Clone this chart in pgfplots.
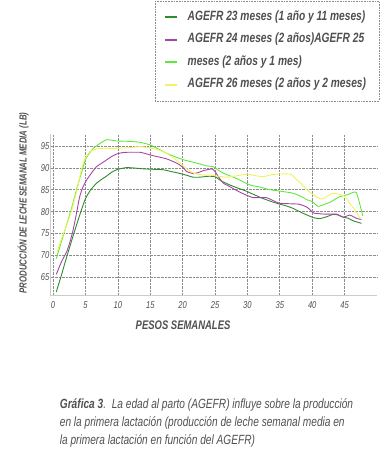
\documentclass[border=0pt]{standalone}
\usepackage{fontspec}
\setmainfont{Liberation Sans}[FakeStretch=0.76]
\usepackage{pgfplots}
\pgfplotsset{compat=1.18}
\definecolor{txt}{HTML}{505050}
\definecolor{cA}{HTML}{2E8B2E}
\definecolor{cB}{HTML}{A844A8}
\definecolor{cC}{HTML}{5FE83C}
\definecolor{cD}{HTML}{F2F25A}
\pgfplotstableread{
x y
0.5 61.6
1.3 65.5
2.1 69.6
2.9 73.5
3.7 77.3
4.4 80.5
5.0 83.0
5.8 85.0
6.7 86.5
7.5 87.4
8.3 88.2
9.0 89.0
9.8 89.6
10.6 89.9
11.4 90.1
12.5 90.0
14.0 89.8
15.5 89.7
17.0 89.6
18.5 89.1
20.0 88.6
21.6 87.9
22.7 87.9
24.0 88.1
25.0 88.0
26.0 87.0
27.3 86.1
28.5 85.4
29.8 84.7
31.0 83.9
32.4 83.0
33.7 82.3
35.0 81.7
36.0 81.3
37.1 80.7
38.6 79.6
40.2 78.6
41.2 78.4
42.2 78.8
43.3 79.4
44.0 79.2
44.8 78.7
45.5 78.5
46.3 77.9
47.6 77.3
}\tA
\pgfplotstableread{
x y
0.5 65.6
1.3 68.5
2.1 70.8
2.6 73.0
3.1 75.8
3.6 79.5
4.1 83.4
4.6 85.6
5.2 87.3
6.0 89.0
6.7 90.3
7.5 91.1
8.3 91.9
9.0 92.6
9.8 93.2
10.6 93.5
11.4 93.6
13.4 93.6
14.5 93.2
15.5 92.8
17.5 92.1
19.1 91.1
20.0 90.2
20.6 89.2
21.7 88.7
22.5 89.0
23.2 89.4
24.5 89.8
25.0 89.2
25.6 87.8
26.3 86.5
27.3 85.7
28.5 84.7
29.8 83.8
30.9 83.2
32.9 83.2
34.0 82.5
35.0 81.9
37.9 81.7
39.2 81.0
40.2 79.7
41.2 79.5
42.2 79.4
43.8 79.4
44.8 78.7
45.8 79.2
46.9 78.4
47.6 78.2
}\tB
\pgfplotstableread{
x y
0.5 69.2
1.3 73.2
2.1 77.0
2.9 81.0
3.7 85.5
4.4 89.0
5.0 91.9
5.6 93.4
6.2 94.5
7.2 95.6
8.3 96.5
9.8 96.2
11.9 96.1
13.4 95.9
15.0 95.3
16.2 94.4
17.5 93.4
18.8 92.6
20.1 91.9
21.4 91.4
22.7 90.9
23.7 90.5
24.7 90.3
25.5 89.5
26.3 88.8
28.3 87.6
30.4 86.1
32.0 85.6
33.5 85.0
35.0 84.7
37.1 84.2
38.5 83.3
39.2 82.7
40.0 82.3
40.9 81.2
41.8 81.6
42.7 82.1
43.5 82.8
44.2 83.4
45.5 83.9
46.8 84.4
47.8 79.0
}\tC
\pgfplotstableread{
x y
0.6 70.6
1.3 73.8
2.1 76.8
2.9 80.5
3.7 85.0
4.2 88.5
4.7 91.5
5.2 92.8
5.7 93.8
6.5 94.3
7.3 94.5
9.8 94.5
12.0 94.7
13.4 94.9
15.0 94.6
16.2 94.2
17.5 93.4
18.5 92.4
19.6 91.1
20.5 90.0
21.4 89.0
22.2 88.6
23.2 88.4
24.7 88.3
26.0 88.0
26.8 87.9
28.3 88.2
29.9 88.6
31.0 88.3
32.4 88.0
33.5 88.4
34.5 88.6
36.6 88.6
37.4 87.6
38.3 86.4
39.2 85.0
40.2 83.8
41.0 83.1
41.6 82.9
42.4 83.6
43.3 84.2
44.8 83.7
45.3 83.0
45.8 81.9
46.6 80.3
47.4 78.5
}\tD
\begin{document}
\begin{tikzpicture}
\useasboundingbox (-50.5bp,-174.3bp) rectangle (335.5bp,295.7bp);
\begin{axis}[
  scale only axis,
  width=326.5bp, height=161.7bp,
  xmin=-0.4, xmax=50, ymin=60.7, ymax=97.8,
  xtick={0,5,...,45}, ytick={65,70,...,95},
  grid=major,
  grid style={densely dotted, black!45, line width=0.7pt},
  axis x line*=bottom, axis y line*=left,
  axis line style={black!20, line width=0.8pt, -},
  major tick length=0pt,
  /pgf/number format/assume math mode=true,
  tick label style={font=\fontsize{10}{12}\selectfont\itshape, text=txt},
  yticklabel style={inner sep=1bp},
  xticklabel style={yshift=-2bp},
  xlabel={PESOS SEMANALES},
  xlabel style={at={(axis description cs:0.406,-0.184)}, anchor=center,
     font=\fontsize{12.5}{15}\selectfont\bfseries\itshape, text=txt},
  ylabel={PRODUCCIÓN DE LECHE SEMANAL MEDIA (LB)},
  ylabel style={at={(axis description cs:-0.084,0.573)}, anchor=center,
     font=\fontsize{10.3}{12}\selectfont\bfseries\itshape, text=txt},
  legend cell align=left,
  legend style={at={(0.32,1.822)}, anchor=north west,
     draw=black!45, densely dotted, line width=0.6pt,
     font=\fontsize{13.5}{15}\selectfont\bfseries\itshape, text=txt,
     row sep=6.5bp, column sep=6bp, inner xsep=9bp, inner ysep=8bp,
     nodes={text height=9bp, text depth=3bp, inner xsep=4bp}},
  legend image code/.code={\draw[#1, solid, line width=1.8pt] (0bp,0bp) -- (11.6bp,0bp);},
]
\addplot[cA, line width=0.9pt, smooth, tension=0.3] table {\tA};
\addlegendentry{AGEFR 23 meses (1 año y 11 meses)}
\addplot[cB, line width=0.9pt, smooth, tension=0.3] table {\tB};
\addlegendentry{AGEFR 24 meses (2 años)AGEFR 25}
\addplot[cC, line width=0.9pt, smooth, tension=0.3] table {\tC};
\addlegendentry{meses (2 años y 1 mes)}
\addplot[cD, line width=0.9pt, smooth, tension=0.3] table {\tD};
\addlegendentry{AGEFR 26 meses (2 años y 2 meses)}
\end{axis}
\node[anchor=base west, align=left, text=txt, inner sep=0pt,
  font=\fontsize{13.4}{18}\selectfont\itshape] at (9.2bp,-148.3bp)
  {\textbf{Gráfica 3}.\ \ La edad al parto (AGEFR) influye sobre la producción\\
   en la primera lactación (producción de leche semanal media en\\
   la primera lactación en función del AGEFR)};
\end{tikzpicture}
\end{document}
